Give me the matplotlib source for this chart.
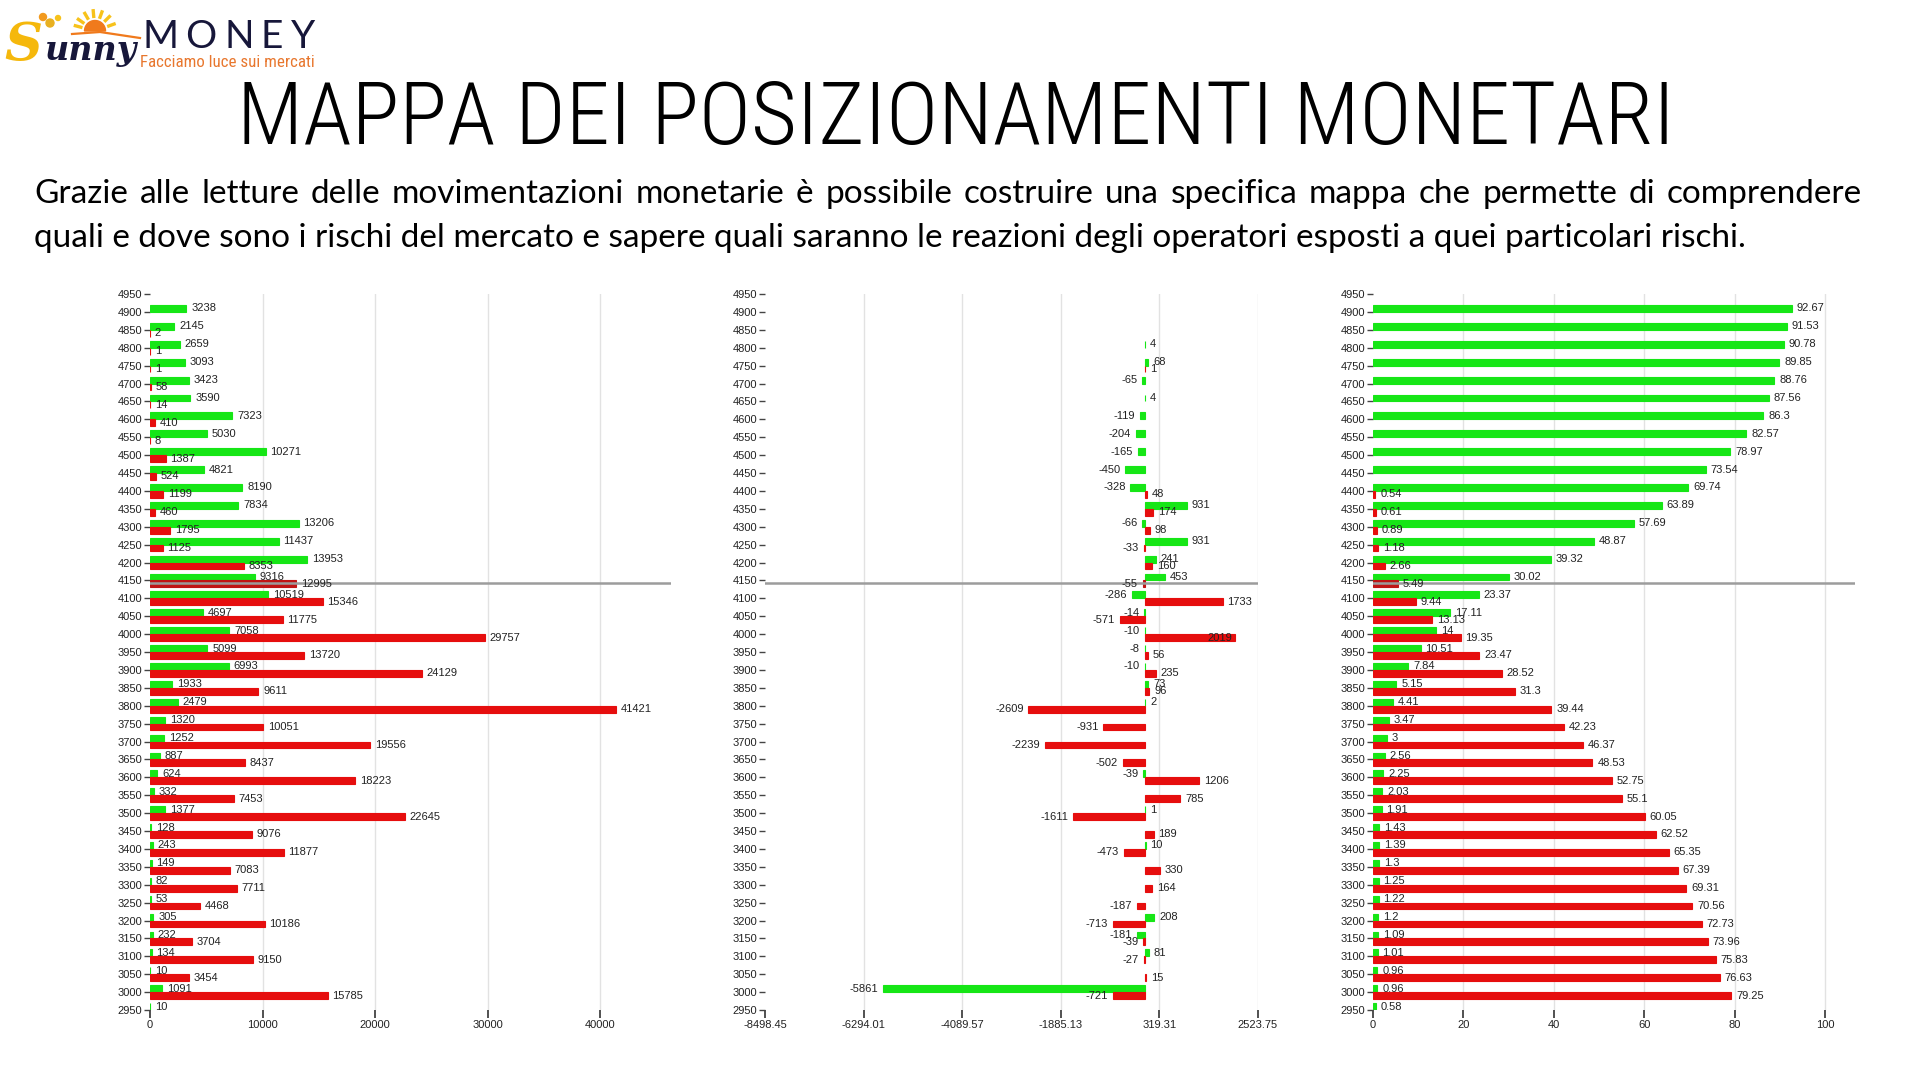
import os
import numpy as np
import matplotlib
matplotlib.use("Agg")
import matplotlib.pyplot as plt
from matplotlib import font_manager as fm
from matplotlib.patches import Wedge, Circle

plt.rcParams['font.family'] = ['Liberation Sans', 'DejaVu Sans']
installed = {f.name for f in fm.fontManager.ttflist}
NARROW = 'Liberation Sans Narrow' if 'Liberation Sans Narrow' in installed else 'Liberation Sans'


def condensed_font(weight):
    # a condensed sans in the wanted weight if one is installed, else the narrow Liberation
    for fam in ('Noto Sans', 'Open Sans', 'Roboto', 'Noto Sans Display', 'Roboto Condensed'):
        if fam not in installed:
            continue
        for st in ('condensed', 'semi-condensed'):
            p = fm.FontProperties(family=fam, stretch=st, weight=weight)
            path = fm.findfont(p, fallback_to_default=False)
            if 'ondensed' in os.path.basename(path):
                return fm.FontProperties(fname=path)
    return fm.FontProperties(family=[NARROW, 'DejaVu Sans'])


title_font = condensed_font('light')
tag_font = condensed_font('normal')

# strike levels, top to bottom
strikes = np.arange(4950, 2949, -50)

# left panel: open positions
left_green = [0, 3238, 2145, 2659, 3093, 3423, 3590, 7323, 5030, 10271, 4821, 8190, 7834, 13206,
              11437, 13953, 9316, 10519, 4697, 7058, 5099, 6993, 1933, 2479, 1320, 1252, 887, 624,
              332, 1377, 128, 243, 149, 82, 53, 305, 232, 134, 10, 1091, 10]
left_red = [0, 0, 2, 1, 1, 58, 14, 410, 8, 1387, 524, 1199, 460, 1795, 1125, 8353, 12995, 15346,
            11775, 29757, 13720, 24129, 9611, 41421, 10051, 19556, 8437, 18223, 7453, 22645, 9076,
            11877, 7083, 7711, 4468, 10186, 3704, 9150, 3454, 15785, 0]
left_ticks = [0, 10000, 20000, 30000, 40000]
left_xmax = 46300

# middle panel: changes
mid_green = [0, 0, 0, 4, 68, -65, 4, -119, -204, -165, -450, -328, 931, -66, 931, 241, 453, -286,
             -14, -10, -8, -10, 73, 2, 0, 0, 0, -39, 0, 1, 0, 10, 0, 0, 0, 208, -181, 81, 0, -5861, 0]
mid_red = [0, 0, 0, 0, 1, 0, 0, 0, 0, 0, 0, 48, 174, 98, -33, 160, -55, 1733, -571, 2019, 56, 235,
           96, -2609, -931, -2239, -502, 1206, 785, -1611, 189, -473, 330, 164, -187, -713, -39, -27,
           15, -721, 0]
mid_ticks = [-8498.45, -6294.01, -4089.57, -1885.13, 319.31, 2523.75]

# right panel: percentages
right_green = [0, 92.67, 91.53, 90.78, 89.85, 88.76, 87.56, 86.3, 82.57, 78.97, 73.54, 69.74, 63.89,
               57.69, 48.87, 39.32, 30.02, 23.37, 17.11, 14, 10.51, 7.84, 5.15, 4.41, 3.47, 3, 2.56,
               2.25, 2.03, 1.91, 1.43, 1.39, 1.3, 1.25, 1.22, 1.2, 1.09, 1.01, 0.96, 0.96, 0.58]
right_red = [0, 0, 0, 0, 0, 0, 0, 0, 0, 0, 0, 0.54, 0.61, 0.89, 1.18, 2.66, 5.49, 9.44, 13.13, 19.35,
             23.47, 28.52, 31.3, 39.44, 42.23, 46.37, 48.53, 52.75, 55.1, 60.05, 62.52, 65.35, 67.39,
             69.31, 70.56, 72.73, 73.96, 75.83, 76.63, 79.25, 0]
right_ticks = [0, 20, 40, 60, 80, 100]
right_xmax = 106.57

price_row = 4150
price_level = 4142

TITLE = "MAPPA DEI POSIZIONAMENTI MONETARI"
line1 = ("Grazie alle letture delle movimentazioni monetarie è possibile costruire una specifica "
         "mappa che permette di comprendere")
line2 = ("quali e dove sono i rischi del mercato e sapere quali saranno le reazioni degli operatori "
         "esposti a quei particolari rischi.")

GREEN = '#16e616'
RED = '#e60e0e'
RED_DARK = '#c01515'
NAVY = '#17173a'
BAR_H = 19

W, H = 1911, 1072
fig = plt.figure(figsize=(W / 100, H / 100), dpi=100, facecolor='white')


def px_rect(x0, x1, ytop, ybot):
    return [x0 / W, 1 - ybot / H, (x1 - x0) / W, (ybot - ytop) / H]


def fmt(v):
    return f"{v:g}"


def draw_panel(rect, green, red, xlim, ticks, ticklabels):
    ax = fig.add_axes(rect)
    g = np.array(green, float)
    r = np.array(red, float)
    red_cols = [RED_DARK if s == price_row else RED for s in strikes]
    ax.barh(strikes + BAR_H / 2, g, height=BAR_H, color=GREEN, edgecolor=GREEN,
            linewidth=[0.8 if v else 0 for v in g], zorder=3)
    ax.barh(strikes - BAR_H / 2, r, height=BAR_H, color=red_cols, edgecolor=red_cols,
            linewidth=[0.8 if v else 0 for v in r], zorder=3)
    for t in ticks[1:]:
        ax.axvline(t, color='#e2e2e2', lw=1, zorder=1)
    ax.axhline(price_level, color='#9c9c9c', lw=1.8, zorder=4)
    ax.set_xlim(*xlim)
    ax.set_ylim(2950, 4950)
    ax.set_yticks(strikes)
    ax.set_yticklabels([str(s) for s in strikes])
    ax.set_xticks(ticks)
    ax.set_xticklabels(ticklabels)
    for sp in ax.spines.values():
        sp.set_visible(False)
    ax.tick_params(axis='y', length=4, width=1, color='#444', pad=1.5, labelsize=8, labelcolor='#222')
    ax.tick_params(axis='x', length=6, width=1.2, color='#333', pad=1.5, labelsize=8, labelcolor='#222')

    labels = []
    for vals, dy in ((g, BAR_H / 2), (r, -BAR_H / 2)):
        for s, v in zip(strikes, vals):
            if v == 0:
                continue
            off = 3.5 if v > 0 else -3.5
            a = ax.annotate(fmt(v), (v, s + dy), xytext=(off, 0), textcoords='offset points',
                            ha='left' if v > 0 else 'right', va='center', fontsize=8,
                            color='#222', zorder=5)
            labels.append((a, v))
    return ax, labels


panels = [
    draw_panel(px_rect(150, 671, 294, 1010), left_green, left_red, (0, left_xmax),
               left_ticks, [str(t) for t in left_ticks]),
    draw_panel(px_rect(765, 1258, 294, 1010), mid_green, mid_red, (mid_ticks[0], mid_ticks[-1]),
               mid_ticks, [f"{t:.2f}" for t in mid_ticks]),
    draw_panel(px_rect(1373, 1855, 294, 1010), right_green, right_red, (0, right_xmax),
               right_ticks, [str(t) for t in right_ticks]),
]

# overlay in pixel coordinates for the header
top = fig.add_axes([0, 0, 1, 1], zorder=-1)
top.set_xlim(0, W)
top.set_ylim(H, 0)
top.axis('off')

# logo
top.add_patch(Circle((43, 17), 3.5, color='#f29a1e'))
top.add_patch(Circle((50, 23), 4, color='#e8b020'))
top.add_patch(Circle((58, 18), 2.5, color='#f7c21b'))
for ang in (195, 215, 240, 265, 290, 315, 340):
    a = np.deg2rad(ang)
    top.plot([95 + 13 * np.cos(a), 95 + 22 * np.cos(a)], [31 + 13 * np.sin(a), 31 + 22 * np.sin(a)],
             color='#f7c21b', lw=2.4, solid_capstyle='butt')
top.add_patch(Wedge((95, 31), 10.5, 180, 360, color='#f07a1c'))
top.plot([72, 100, 140], [34, 32, 38], color='#f07a1c', lw=1.6)
top.text(4, 60, 'S', fontsize=38, family='DejaVu Serif', style='italic', weight='bold',
         color='#f5b80c', va='baseline')
top.text(45, 60, 'unny', fontsize=24, family='DejaVu Serif', style='italic', weight='bold',
         color=NAVY, va='baseline')
money = [top.text(0, 48, ch, fontsize=28, family=['Lato', 'DejaVu Sans'], color=NAVY, va='baseline')
         for ch in "MONEY"]
tag = top.text(140, 67, 'Facciamo luce sui mercati', fontproperties=tag_font,
               color='#e8772e', va='baseline')
tag.set_fontsize(13)

title = top.text(W / 2, 144, TITLE, ha='center', va='baseline', fontproperties=title_font,
                 color='black')
title.set_fontsize(60)
sub2 = top.text(34, 247, line2, va='baseline', fontsize=20, family=['Lato', 'DejaVu Sans'], color='black')

fig.canvas.draw()
rend = fig.canvas.get_renderer()


def width_of(t):
    return t.get_window_extent(rend).width


def spread(texts, x0, x1):
    widths = [width_of(t) for t in texts]
    gap = (x1 - x0 - sum(widths)) / (len(texts) - 1)
    x = x0
    for t, w in zip(texts, widths):
        t.set_x(x)
        x += w + gap


tag.set_fontsize(13 * 174 / width_of(tag))
title.set_fontsize(60 * 1438 / width_of(title))
spread(money, 142, 315)
fs = 20 * 1721 / width_of(sub2)
sub2.set_fontsize(fs)

# justified first line
words = [top.text(0, 203, w, va='baseline', fontsize=fs, family=['Lato', 'DejaVu Sans'], color='black')
         for w in line1.split()]
fig.canvas.draw()
spread(words, 34, 1862)

# labels that would run past the right edge go inside the bar
fig.canvas.draw()
for ax, labels in panels:
    right = ax.get_window_extent(rend).x1
    for a, v in labels:
        if v > 0 and a.get_window_extent(rend).x1 > right:
            a.xyann = (-2, 0)
            a.set_ha('right')

fig.savefig('out.png', dpi=100, facecolor='white')
